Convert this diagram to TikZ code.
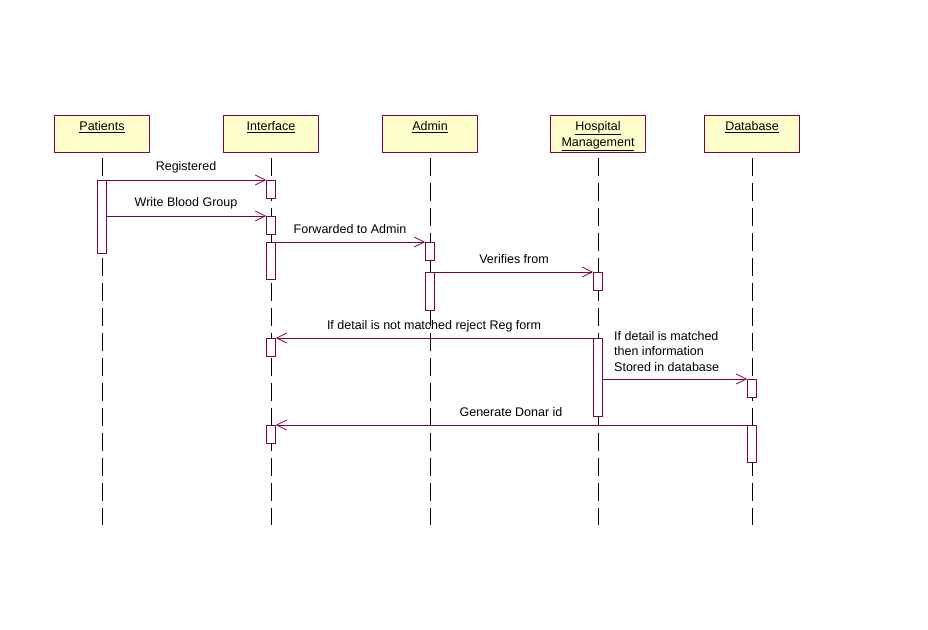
\documentclass[tikz,border=0pt]{standalone}
\usepackage{fontspec}
\setmainfont{Liberation Sans}
\usetikzlibrary{arrows.meta}
\definecolor{umlred}{RGB}{128,0,64}
\definecolor{umlfill}{RGB}{255,255,204}
\begin{document}
\begin{tikzpicture}[x=1pt,y=-1pt,
  txt/.style={font=\fontsize{12.5}{15.5}\selectfont, inner sep=0pt},
  obj/.style={draw=umlred, fill=umlfill, line width=0.8pt, minimum width=95pt, minimum height=37pt, inner sep=0pt, anchor=north},
  life/.style={black, line width=0.9pt, dash pattern=on 18pt off 7pt, dash phase=20pt},
  act/.style={draw=umlred, fill=white, line width=0.8pt, minimum width=9pt, inner sep=0pt, anchor=north},
  msg/.style={umlred, line width=0.8pt, -{Straight Barb[length=10pt,width=10pt,line width=0.8pt]}}]
\useasboundingbox (0,0) rectangle (928,629);
% headers
\node[obj] (hp) at (102,115) {};
\node[obj] (hi) at (271,115) {};
\node[obj] (ha) at (430,115) {};
\node[obj] (hh) at (598,115) {};
\node[obj] (hd) at (752,115) {};
\node[txt] (tp) at (102,127.5) {\underline{Patients}};
\node[txt] (ti) at (271,127.5) {\underline{Interface}};
\node[txt] (ta) at (430,127.5) {\underline{Admin}};
\node[txt, align=center, font=\fontsize{12.5}{16}\selectfont] (th) at (598,136) {\underline{Hospital}\\\underline{Management}};
\node[txt] (td) at (752,127.5) {\underline{Database}};
% lifeline ends
\coordinate (ep) at (102,525);
\coordinate (ei) at (271,525);
\coordinate (ea) at (430,525);
\coordinate (eh) at (598,525);
\coordinate (ed) at (752,525);
\draw[life] (hp.south) -- (ep);
\draw[life] (hi.south) -- (ei);
\draw[life] (ha.south) -- (ea);
\draw[life] (hh.south) -- (eh);
\draw[life] (hd.south) -- (ed);
% activations
\node[act, minimum height=73pt] (p1) at (102,180) {};
\node[act, minimum height=18pt] (i1) at (271,180) {};
\node[act, minimum height=18pt] (i2) at (271,216) {};
\node[act, minimum height=37pt] (i3) at (271,242) {};
\node[act, minimum height=18pt] (i4) at (271,338) {};
\node[act, minimum height=18pt] (i5) at (271,425) {};
\node[act, minimum height=18pt] (a1) at (430,242) {};
\node[act, minimum height=38pt] (a2) at (430,272) {};
\node[act, minimum height=18pt] (h1) at (598,272) {};
\node[act, minimum height=78pt] (h2) at (598,338) {};
\node[act, minimum height=18pt] (d1) at (752,379) {};
\node[act, minimum height=37pt] (d2) at (752,425) {};
% messages
\draw[msg] (p1.north east) -- (i1.north west);
\draw[msg] (i2.north west -| p1.east) -- (i2.north west);
\draw[msg] (i3.north east) -- (a1.north west);
\draw[msg] (a2.north east) -- (h1.north west);
\draw[msg] (h2.north west) -- (i4.north east);
\draw[msg] (d1.north west -| h2.east) -- (d1.north west);
\draw[msg] (d2.north west) -- (i5.north east);
% labels
\node[txt] (l1) at (186,167.5) {Registered};
\node[txt] (l2) at (186,203.5) {Write Blood Group};
\node[txt] (l3) at (350,229.5) {Forwarded to Admin};
\node[txt] (l4) at (514,259.5) {Verifies from};
\node[txt] (l5) at (434,326.5) {If detail is not matched reject Reg form};
\node[txt, align=left, anchor=north west] (l6) at (614,331) {If detail is matched\\then information\\Stored in database};
\node[txt] (l7) at (511,412.5) {Generate Donar id};
\end{tikzpicture}
\end{document}
